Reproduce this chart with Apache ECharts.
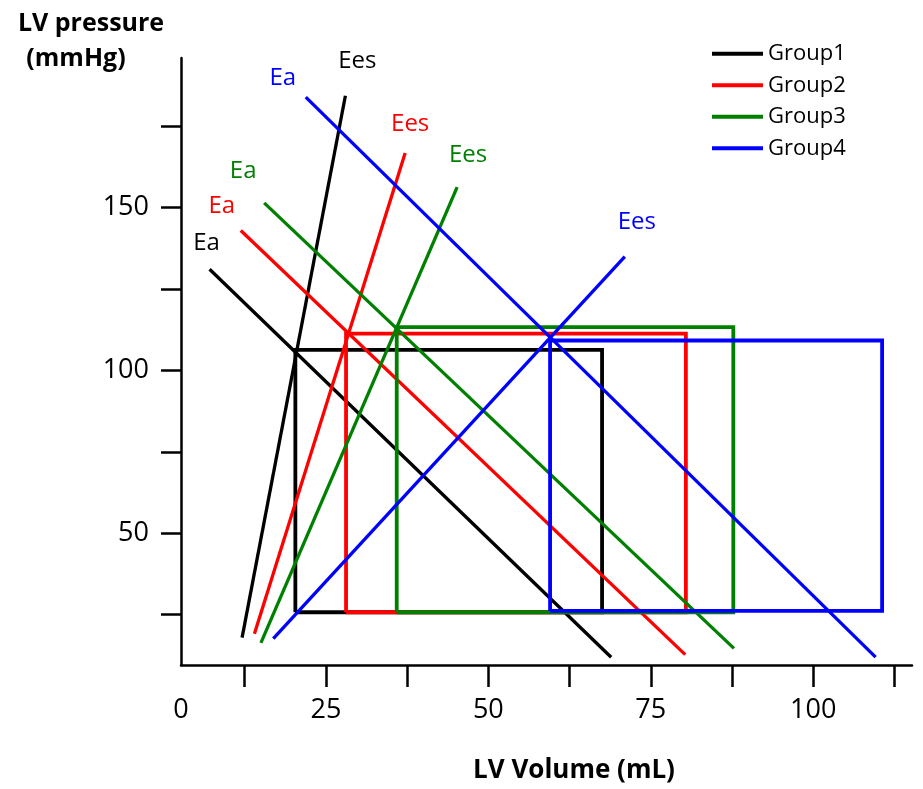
<!DOCTYPE html>
<html>
<head>
	<meta charset="UTF-8">
	<title>LV pressure-volume</title>
	<script src="https://cdn.jsdelivr.net/npm/echarts@6/dist/echarts.min.js"></script>
	<style type="text/css">
		html, body {
			margin: 0;
			padding: 0;
			background: #fff;
		}
		#main {
			width: 923px;
			height: 789px;
		}
	</style>
</head>
<body>
	<div id="main"></div>
	<script type="text/javascript">
		var groups = ['Group1', 'Group2', 'Group3', 'Group4'];
		var colors = ['#000000', '#ff0000', '#008000', '#0000ff'];
		// PV loop corners (volume mL / pressure mmHg)
		var esv = [20.3, 28.1, 35.9, 59.5];
		var edv = [67.5, 80.4, 87.7, 110.6];
		var esp = [106.3, 111.3, 113.3, 109.2];
		var edp = [25.7, 25.7, 25.7, 26.1];
		// Ees lines, low end and high end
		var eesLow = [[12.1, 17.9], [14.0, 19.1], [15.0, 16.3], [16.9, 17.6]];
		var eesHigh = [[28.0, 184.4], [37.2, 166.8], [45.2, 156.3], [71.0, 135.0]];
		// Ea lines, high end and low end
		var eaHigh = [[7.1, 131.1], [11.9, 143.0], [15.5, 151.5], [21.9, 184.0]];
		var eaLow = [[68.9, 11.9], [80.3, 12.7], [87.8, 14.6], [109.6, 11.9]];
		// axes
		var xMin = 2.7, xMax = 115.2;
		var yMin = 9.5, yMax = 196;
		var xTicks = [12.5, 25, 37.5, 50, 62.5, 75, 87.5, 100, 112.5];
		var xLabels = [25, 50, 75, 100];
		var yTicks = [25, 50, 75, 100, 125, 150, 175];
		var yLabels = [50, 100, 150];

		var font = 'Open Sans';
		// where the Ees / Ea words sit next to the line ends (px)
		var eesOffset = [[12, -35], [5, -29], [11, -32], [12, -34]];
		var eaOffset = [[-3, -26], [-19, -24], [-21, -32], [-23, -19]];

		function endLabel(text, color, offset) {
			return {
				show: true,
				position: 'inside',
				formatter: text,
				offset: offset,
				color: color,
				fontFamily: font,
				fontSize: 24
			};
		}

		var series = [];
		for(var i = 0; i < groups.length; i++) {
			var c = colors[i];
			series.push({
				name: groups[i],
				type: 'line',
				symbol: 'none',
				data: [[esv[i], edp[i]], [esv[i], esp[i]], [edv[i], esp[i]], [edv[i], edp[i]], [esv[i], edp[i]]],
				itemStyle: { color: c },
				lineStyle: { color: c, width: 3.8, join: 'miter' }
			});
			series.push({
				name: groups[i],
				type: 'line',
				symbol: 'circle',
				symbolSize: 0.1,
				showSymbol: true,
				data: [eesLow[i], { value: eesHigh[i], label: endLabel('Ees', c, eesOffset[i]) }],
				itemStyle: { color: c },
				lineStyle: { color: c, width: 3.3 }
			});
			series.push({
				name: groups[i],
				type: 'line',
				symbol: 'circle',
				symbolSize: 0.1,
				showSymbol: true,
				data: [{ value: eaHigh[i], label: endLabel('Ea', c, eaOffset[i]) }, eaLow[i]],
				itemStyle: { color: c },
				lineStyle: { color: c, width: 3.3 }
			});
		}

		var myChart = echarts.init(document.getElementById('main'));
		var option = {
			animation: false,
			backgroundColor: '#fff',
			grid: {
				left: 181,
				right: 11,
				top: 58,
				bottom: 122,
				containLabel: false
			},
			legend: {
				data: groups,
				orient: 'vertical',
				left: 707,
				top: 33,
				icon: 'rect',
				itemWidth: 51,
				itemHeight: 4,
				itemGap: 0,
				itemStyle: { borderWidth: 0 },
				textStyle: {
					fontFamily: font,
					fontSize: 22,
					lineHeight: 31.5,
					color: '#000'
				}
			},
			xAxis: {
				type: 'value',
				min: xMin,
				max: xMax,
				name: 'LV Volume (mL)',
				nameLocation: 'middle',
				nameGap: 93,
				nameTextStyle: {
					fontFamily: font,
					fontSize: 26,
					fontWeight: 'bold',
					color: '#000',
					padding: [0, 0, 0, 55]
				},
				axisLine: { show: true, onZero: false, lineStyle: { color: '#000', width: 2.5 } },
				axisTick: { show: true, customValues: xTicks, length: 22, lineStyle: { color: '#000', width: 2.5 } },
				axisLabel: {
					customValues: [xMin].concat(xLabels),
					formatter: function(v) {
						return v < xLabels[0] ? '0' : String(v);
					},
					fontFamily: font,
					fontSize: 27,
					color: '#000',
					margin: 32
				},
				splitLine: { show: false }
			},
			yAxis: {
				type: 'value',
				min: yMin,
				max: yMax,
				name: '{a|LV pressure}\n{b|(mmHg)}',
				nameLocation: 'end',
				nameGap: -18,
				nameTextStyle: {
					fontFamily: font,
					fontSize: 25,
					fontWeight: 'bold',
					color: '#000',
					padding: [0, 180, 0, 0],
					rich: {
						a: { fontFamily: font, fontSize: 25, fontWeight: 'bold', color: '#000', lineHeight: 35 },
						b: { fontFamily: font, fontSize: 25, fontWeight: 'bold', color: '#000', lineHeight: 35, padding: [0, 30, 0, 0] }
					}
				},
				axisLine: { show: true, onZero: false, lineStyle: { color: '#000', width: 2.5 } },
				axisTick: { show: true, customValues: yTicks, length: 20, lineStyle: { color: '#000', width: 2.5 } },
				axisLabel: {
					customValues: yLabels,
					fontFamily: font,
					fontSize: 27,
					color: '#000',
					margin: 32
				},
				splitLine: { show: false }
			},
			series: series
		};
		myChart.setOption(option);
	</script>
</body>
</html>
